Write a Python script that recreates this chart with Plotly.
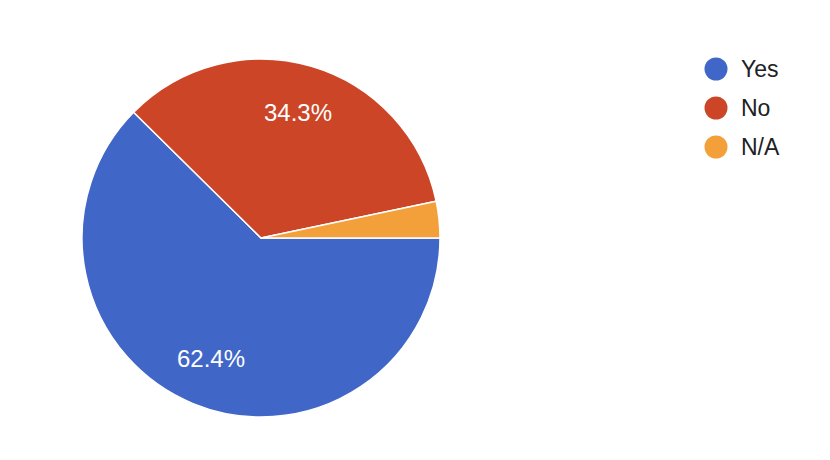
import math
import plotly.graph_objects as go

labels = ["Yes", "No", "N/A"]
values = [62.4, 34.3, 3.3]
colors = ["#4067c7", "#cc4526", "#f3a03b"]
shown_text = ["62.4%", "34.3%", ""]

W, H = 830, 460
OFF = 8  # page body margin compensation
cx, cy, R = 261 - OFF, 238 - OFF, 179
FONT = "Liberation Sans, Arial, sans-serif"

fig = go.Figure()
fig.add_trace(go.Pie(
    labels=labels, values=values, sort=False, direction="clockwise", rotation=90,
    marker=dict(colors=colors, line=dict(color="white", width=1.5)),
    textinfo="none", showlegend=False, hoverinfo="label+percent",
    domain=dict(x=[(cx - R) / W, (cx + R) / W], y=[1 - (cy + R) / H, 1 - (cy - R) / H]),
))

shapes, annotations = [], []
# slice labels at 0.73 R along each slice's mid-angle
total = sum(values)
cum = 0.0
for v, t in zip(values, shown_text):
    mid = (cum + v / 2) / total * 2 * math.pi
    cum += v
    if not t:
        continue
    px = cx + 0.73 * R * math.cos(mid)
    py = cy + 0.73 * R * math.sin(mid)
    annotations.append(dict(x=px / W, y=1 - py / H, xref="paper", yref="paper", text=t,
                            showarrow=False, xanchor="center", yanchor="middle",
                            font=dict(family=FONT, size=24, color="white")))

leg_x, leg_y0, leg_dy, r = 716 - OFF, 69 - OFF, 39, 11.5
for i, (lab, col) in enumerate(zip(labels, colors)):
    ly = leg_y0 + i * leg_dy
    shapes.append(dict(type="circle", xref="paper", yref="paper",
                       x0=(leg_x - r) / W, x1=(leg_x + r) / W,
                       y0=1 - (ly + r) / H, y1=1 - (ly - r) / H,
                       fillcolor=col, line=dict(width=0)))
    annotations.append(dict(x=(739 - OFF) / W, y=1 - ly / H, xref="paper", yref="paper",
                            text=lab, showarrow=False, xanchor="left", yanchor="middle",
                            font=dict(family=FONT, size=23, color="#202124")))

fig.update_layout(width=W, height=H, margin=dict(l=0, r=0, t=0, b=0),
                  paper_bgcolor="white", plot_bgcolor="white",
                  shapes=shapes, annotations=annotations)
fig.write_html("out.html")
